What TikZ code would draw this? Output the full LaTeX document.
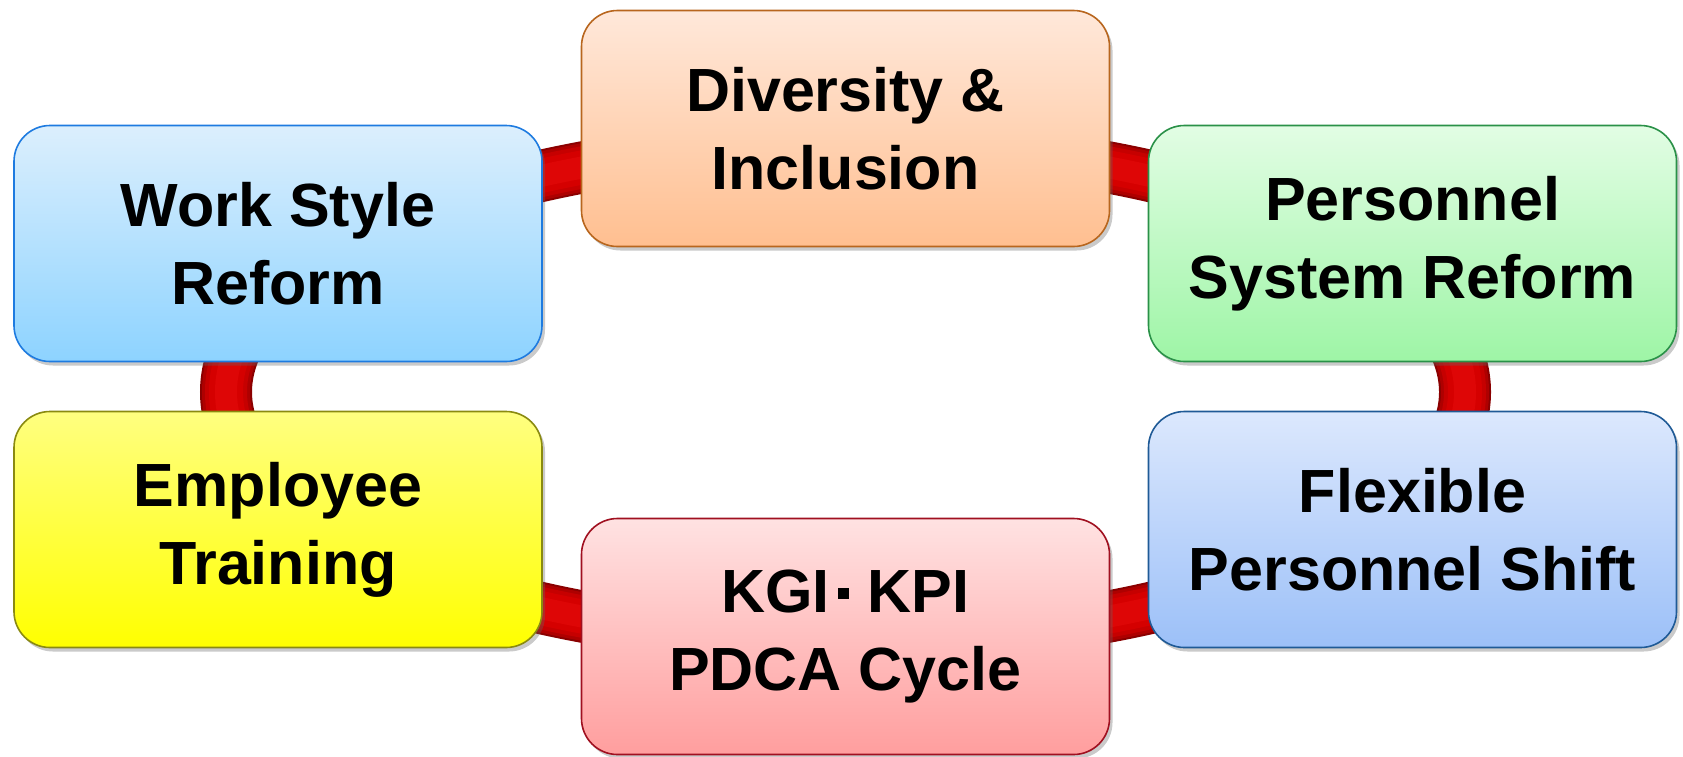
\documentclass[tikz,border=0pt]{standalone}
\usepackage{fontspec}
\setmainfont{Liberation Sans}
\usetikzlibrary{shadows}
\definecolor{ringA}{HTML}{8A0000}
\definecolor{ringB}{HTML}{AE0000}
\definecolor{ringC}{HTML}{C60000}
\definecolor{ringD}{HTML}{D50000}
\definecolor{ringE}{HTML}{DE0606}
\definecolor{wsTop}{RGB}{220,239,253}\definecolor{wsBot}{RGB}{141,211,255}\definecolor{wsLine}{RGB}{30,123,224}
\definecolor{diTop}{RGB}{255,232,218}\definecolor{diBot}{RGB}{255,191,144}\definecolor{diLine}{RGB}{184,102,30}
\definecolor{psTop}{RGB}{226,253,228}\definecolor{psBot}{RGB}{158,245,166}\definecolor{psLine}{RGB}{42,145,72}
\definecolor{etTop}{RGB}{255,255,128}\definecolor{etBot}{RGB}{255,255,0}\definecolor{etLine}{RGB}{138,138,16}
\definecolor{kgTop}{RGB}{255,226,226}\definecolor{kgBot}{RGB}{255,158,158}\definecolor{kgLine}{RGB}{160,16,32}
\definecolor{fpTop}{RGB}{220,232,253}\definecolor{fpBot}{RGB}{156,192,248}\definecolor{fpLine}{RGB}{31,90,150}
\tikzset{
  card/.style n args={3}{rounded corners=36pt, line width=1.6pt,
    minimum width=528pt, minimum height=236pt, inner sep=0pt,
    top color=#1, bottom color=#2, draw=#3,
    align=center, font=\fontsize{61}{78}\selectfont\bfseries, text=black,
    drop shadow={shadow xshift=3pt, shadow yshift=-4pt, opacity=0.35, fill=black!60}},
  ring/.style={line width=#1},
}
% small square separator between KGI and KPI
\newcommand{\sqdot}{\kern8pt\rule[13pt]{11pt}{11pt}\kern19pt}
\begin{document}
\begin{tikzpicture}[x=1pt,y=-1pt]
  \useasboundingbox (0,0) rectangle (1683,756);

  % red ring behind the cards, shaded as a tube
  \coordinate (ringc) at (845.5,392);
  \foreach \w/\c in {52/ringA,48/ringB,42/ringC,34/ringD,22/ringE}
    \draw[\c, ring=\w pt] (ringc) ellipse [x radius=619.5pt, y radius=248pt];

  % cards
  \node[card={wsTop}{wsBot}{wsLine}] (ws) at (278,243.5) {Work Style\\Reform};
  \node[card={diTop}{diBot}{diLine}] (di) at (845.5,128.5) {Diversity \&\\Inclusion};
  \node[card={psTop}{psBot}{psLine}] (ps) at (1412.5,243.5) {Personnel\\System Reform};
  \node[card={etTop}{etBot}{etLine}] (et) at (278,529.5) {Employee\\Training};
  \node[card={kgTop}{kgBot}{kgLine}] (kg) at (845.5,636.5) {KGI\sqdot KPI\\PDCA Cycle};
  \node[card={fpTop}{fpBot}{fpLine}] (fp) at (1412.5,529.5) {Flexible\\Personnel Shift};
\end{tikzpicture}
\end{document}
